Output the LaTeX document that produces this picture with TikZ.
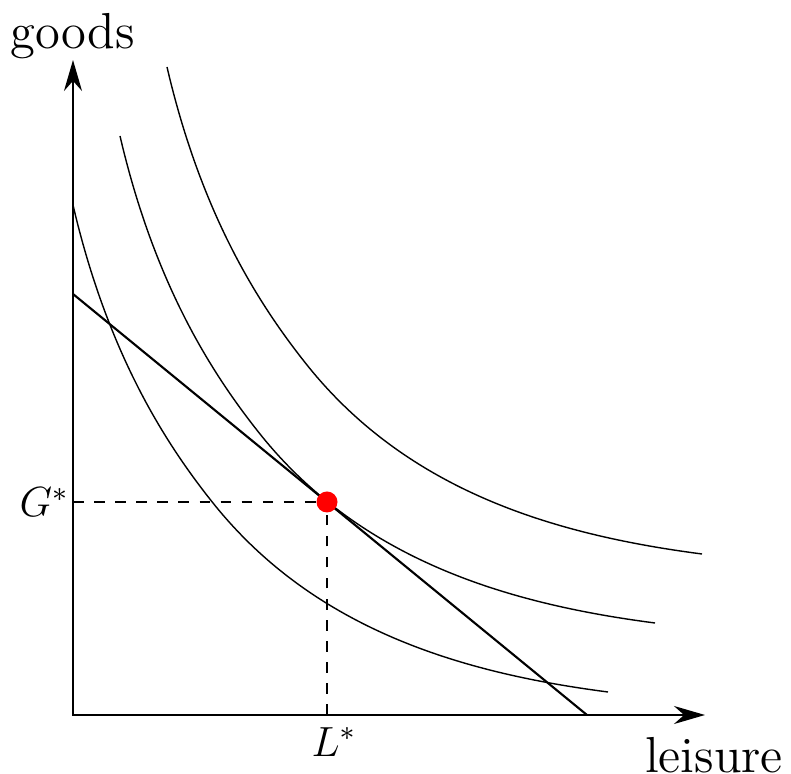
\documentclass[tikz,border=0pt]{standalone}
\usepackage{tikz}
\usetikzlibrary{arrows.meta,positioning}
\definecolor{Ink}{HTML}{000000}
\definecolor{OptRed}{HTML}{FF0000}
\tikzset{
  axisLine/.style={draw=Ink,line width=0.6pt,{Stealth[length=3.1mm,width=1.8mm]}-{Stealth[length=3.1mm,width=1.8mm]}},
  budgetLine/.style={draw=Ink,line width=0.6pt},
  icurve/.style={draw=Ink,thin},
  guide/.style={draw=Ink,thin,dashed},
  optDot/.style={circle,fill=OptRed,inner sep=0pt,minimum size=2.1mm},
  axisLabel/.style={text=Ink,inner sep=0pt},
  starLabel/.style={text=Ink,font=\large}
}

\begin{document}
\begin{tikzpicture}[font=\Large]
  \useasboundingbox (-0.73,-0.59) rectangle (7.18,7.15);
  \coordinate (O) at (0,0);
  \coordinate (xEnd) at (6.32,0);
  \coordinate (yEnd) at (0,6.55);
  \coordinate (bTop) at (0,4.21);
  \coordinate (bEnd) at (5.14,0);
  \coordinate (gAxis) at (0,2.13);
  \coordinate (lAxis) at (2.54,0);
  \foreach \k in {0,1,2}
    \draw[icurve,shift={(\k*0.47,\k*0.69)}]
      (0,5.10) .. controls (0.35,3.60) and (0.93,2.71) .. (1.40,2.12)
               .. controls (2.40,0.87) and (3.85,0.425) .. (5.35,0.23);
  \draw[axisLine] (yEnd) -- (O) -- (xEnd);
  \draw[budgetLine] (bTop) -- (bEnd);
  \node[optDot] (opt) at (2.54,2.13) {};
  \draw[guide] (gAxis) -- (opt);
  \draw[guide] (lAxis) -- (opt);
  \node[starLabel,anchor=east,inner sep=1pt] (Gstar) at (gAxis) {$G^*$};
  \node[starLabel,anchor=north,inner sep=3.3pt,xshift=0.7mm] (Lstar) at (lAxis) {$L^*$};
  \node[axisLabel,anchor=south] (goods) at (yEnd) {goods};
  \node[axisLabel,anchor=north] (leisure) at (6.41,-0.22) {leisure};
\end{tikzpicture}
\end{document}
